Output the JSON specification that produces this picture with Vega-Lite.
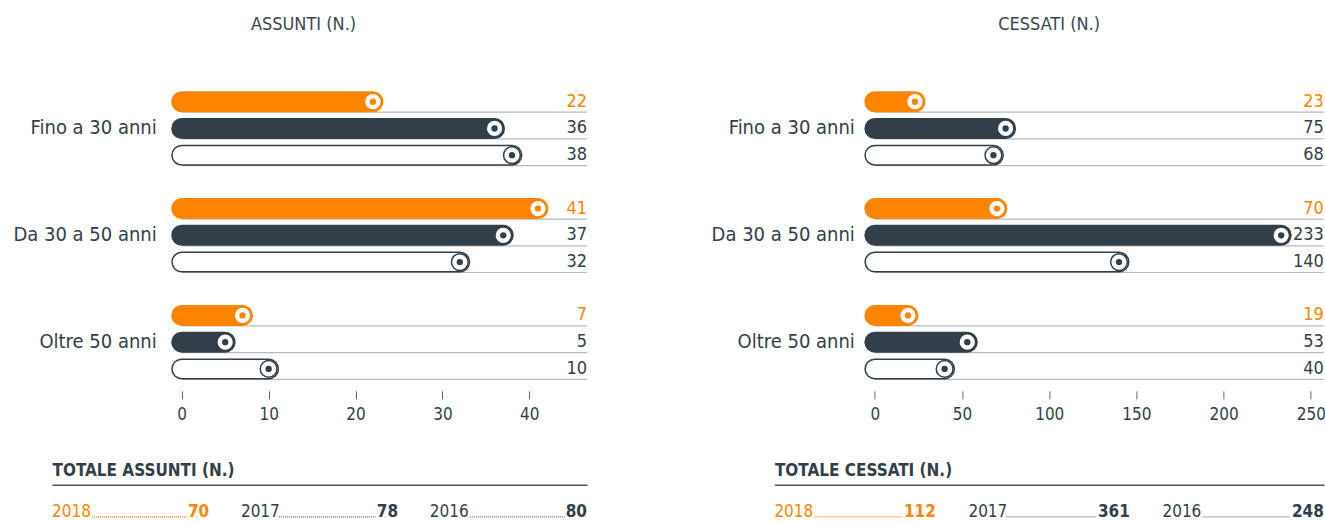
{
  "$schema": "https://vega.github.io/schema/vega-lite/v6.json",
  "padding": {"left": 13, "top": 15.8, "right": 2, "bottom": 0},
  "spacing": 123.4,
  "config": {
    "view": {"stroke": null},
    "font": "DejaVu Sans Condensed",
    "title": {"fontSize": 18, "fontWeight": "normal", "color": "#3b4650", "font": "DejaVu Sans Condensed"},
    "axis": {"labelFont": "DejaVu Sans Condensed", "titleFont": "DejaVu Sans Condensed"}
  },
  "datasets": {
    "assunti": [
      {"group": "Fino a 30 anni", "year": "2018", "value": 22},
      {"group": "Fino a 30 anni", "year": "2017", "value": 36},
      {"group": "Fino a 30 anni", "year": "2016", "value": 38},
      {"group": "Da 30 a 50 anni", "year": "2018", "value": 41},
      {"group": "Da 30 a 50 anni", "year": "2017", "value": 37},
      {"group": "Da 30 a 50 anni", "year": "2016", "value": 32},
      {"group": "Oltre 50 anni", "year": "2018", "value": 7},
      {"group": "Oltre 50 anni", "year": "2017", "value": 5},
      {"group": "Oltre 50 anni", "year": "2016", "value": 10}
    ],
    "cessati": [
      {"group": "Fino a 30 anni", "year": "2018", "value": 23},
      {"group": "Fino a 30 anni", "year": "2017", "value": 75},
      {"group": "Fino a 30 anni", "year": "2016", "value": 68},
      {"group": "Da 30 a 50 anni", "year": "2018", "value": 70},
      {"group": "Da 30 a 50 anni", "year": "2017", "value": 233},
      {"group": "Da 30 a 50 anni", "year": "2016", "value": 140},
      {"group": "Oltre 50 anni", "year": "2018", "value": 19},
      {"group": "Oltre 50 anni", "year": "2017", "value": 53},
      {"group": "Oltre 50 anni", "year": "2016", "value": 40}
    ],
    "tot_assunti": [
      {"year": "2018", "total": 70},
      {"year": "2017", "total": 78},
      {"year": "2016", "total": 80}
    ],
    "tot_cessati": [
      {"year": "2018", "total": 112},
      {"year": "2017", "total": 361},
      {"year": "2016", "total": 248}
    ]
  },
  "hconcat": [
    {
      "bounds": "flush",
      "spacing": 94,
      "vconcat": [
        {
          "width": 535,
          "height": 311,
          "title": {"text": "ASSUNTI (N.)", "dx": -16, "offset": 45.6},
          "data": {"name": "assunti"},
          "encoding": {
            "y": {"field": "group", "type": "nominal", "sort": ["Fino a 30 anni", "Da 30 a 50 anni", "Oltre 50 anni"], "scale": {"paddingInner": 0.249, "paddingOuter": 0.08}, "axis": null}
          },
          "resolve": {"scale": {"yOffset": "independent"}},
          "layer": [
            {
              "mark": {"type": "rule", "color": "#b7bbbf", "strokeWidth": 1.2},
              "encoding": {
                "x": {"datum": 0, "type": "quantitative", "scale": {"domain": [-14.93, 46.64], "nice": false, "zero": false}},
                "x2": {"value": "width"},
                "yOffset": {"field": "year", "type": "nominal", "scale": {"type": "band", "domain": ["2018", "2017", "2016"], "paddingInner": 0.9, "paddingOuter": 0.45, "align": 0.9353}}
              }
            },
            {
              "mark": {"type": "rule", "strokeWidth": 21, "strokeCap": "round"},
              "encoding": {
                "x": {"field": "value", "type": "quantitative", "scale": {"domain": [-14.93, 46.64], "nice": false, "zero": false},
                  "axis": {"values": [0, 10, 20, 30, 40], "domain": false, "grid": false, "tickSize": 8, "tickColor": "#5d666e", "tickWidth": 1, "labelFontSize": 17, "labelColor": "#333f48", "labelPadding": 8, "title": null}},
                "x2": {"datum": 0},
                "yOffset": {"field": "year", "type": "nominal", "scale": {"type": "band", "domain": ["2018", "2017", "2016"], "paddingInner": 0, "paddingOuter": 0}},
                "color": {"field": "year", "type": "nominal", "scale": {"domain": ["2018", "2017", "2016"], "range": ["#ff8500", "#333f48", "#333f48"]}, "legend": null}
              }
            },
            {
              "transform": [{"filter": "datum.year == '2016'"}],
              "mark": {"type": "rule", "strokeWidth": 18, "strokeCap": "round", "color": "white"},
              "encoding": {
                "x": {"field": "value", "type": "quantitative", "scale": {"domain": [-14.93, 46.64], "nice": false, "zero": false}},
                "x2": {"datum": 0},
                "yOffset": {"field": "year", "type": "nominal", "scale": {"type": "band", "domain": ["2018", "2017", "2016"], "paddingInner": 0, "paddingOuter": 0}}
              }
            },
            {
              "mark": {"type": "point", "filled": true, "fill": "white", "size": 280, "strokeWidth": 1.5, "opacity": 1},
              "encoding": {
                "x": {"field": "value", "type": "quantitative", "scale": {"domain": [-14.93, 46.64], "nice": false, "zero": false}},
                "yOffset": {"field": "year", "type": "nominal", "scale": {"type": "band", "domain": ["2018", "2017", "2016"], "paddingInner": 0, "paddingOuter": 0}},
                "stroke": {"field": "year", "type": "nominal", "scale": {"domain": ["2018", "2017", "2016"], "range": ["#ff8500", "#333f48", "#333f48"]}, "legend": null}
              }
            },
            {
              "mark": {"type": "point", "filled": true, "size": 40, "opacity": 1},
              "encoding": {
                "x": {"field": "value", "type": "quantitative", "scale": {"domain": [-14.93, 46.64], "nice": false, "zero": false}},
                "yOffset": {"field": "year", "type": "nominal", "scale": {"type": "band", "domain": ["2018", "2017", "2016"], "paddingInner": 0, "paddingOuter": 0}},
                "color": {"field": "year", "type": "nominal", "scale": {"domain": ["2018", "2017", "2016"], "range": ["#ff8500", "#333f48", "#333f48"]}, "legend": null}
              }
            },
            {
              "mark": {"type": "text", "align": "right", "baseline": "middle", "fontSize": 18},
              "encoding": {
                "x": {"value": "width"},
                "text": {"field": "value", "type": "quantitative"},
                "yOffset": {"field": "year", "type": "nominal", "scale": {"type": "band", "domain": ["2018", "2017", "2016"], "paddingInner": 0, "paddingOuter": 0}},
                "color": {"field": "year", "type": "nominal", "scale": {"domain": ["2018", "2017", "2016"], "range": ["#ff8500", "#333f48", "#333f48"]}, "legend": null}
              }
            },
            {
              "transform": [{"filter": "datum.year == '2017'"}],
              "mark": {"type": "text", "align": "right", "baseline": "middle", "fontSize": 20, "dx": -25, "color": "#333f48"},
              "encoding": {
                "x": {"datum": 0, "type": "quantitative", "scale": {"domain": [-14.93, 46.64], "nice": false, "zero": false}},
                "text": {"field": "group", "type": "nominal"}
              }
            }
          ]
        },
        {
          "width": 535,
          "height": 32,
          "data": {"name": "tot_assunti"},
          "layer": [
            {
              "mark": {"type": "rule", "strokeWidth": 1.2, "strokeDash": [1, 1]},
              "encoding": {
                "x": {"field": "year", "type": "nominal", "bandPosition": 0, "sort": ["2018", "2017", "2016"], "scale": {"paddingInner": 0.168, "paddingOuter": 0},
                  "axis": {"orient": "top", "labels": false, "ticks": false, "grid": false, "domainColor": "#4b5660", "domainWidth": 1.5, "title": "TOTALE ASSUNTI (N.)", "titleAnchor": "start", "titleAlign": "left", "titleFontSize": 17, "titleFontWeight": "bold", "titleColor": "#333f48", "titlePadding": 5}},
                "x2": {"field": "year", "bandPosition": 1},
                "y": {"value": "height"},
                "color": {"field": "year", "type": "nominal", "scale": {"domain": ["2018", "2017", "2016"], "range": ["#ff8500", "#6e777f", "#6e777f"]}, "legend": null}
              }
            },
            {
              "mark": {"type": "text", "align": "left", "baseline": "alphabetic", "fontSize": 17, "fill": "white", "stroke": "white", "strokeWidth": 6},
              "encoding": {
                "x": {"field": "year", "type": "nominal", "bandPosition": 0, "sort": ["2018", "2017", "2016"]},
                "y": {"value": "height"},
                "text": {"field": "year"}
              }
            },
            {
              "mark": {"type": "text", "align": "right", "baseline": "alphabetic", "fontSize": 17, "fontWeight": "bold", "fill": "white", "stroke": "white", "strokeWidth": 6},
              "encoding": {
                "x": {"field": "year", "type": "nominal", "bandPosition": 1, "sort": ["2018", "2017", "2016"]},
                "y": {"value": "height"},
                "text": {"field": "total"}
              }
            },
            {
              "mark": {"type": "text", "align": "left", "baseline": "alphabetic", "fontSize": 17},
              "encoding": {
                "x": {"field": "year", "type": "nominal", "bandPosition": 0, "sort": ["2018", "2017", "2016"]},
                "y": {"value": "height"},
                "text": {"field": "year"},
                "color": {"field": "year", "type": "nominal", "scale": {"domain": ["2018", "2017", "2016"], "range": ["#ff8500", "#333f48", "#333f48"]}, "legend": null}
              }
            },
            {
              "mark": {"type": "text", "align": "right", "baseline": "alphabetic", "fontSize": 17, "fontWeight": "bold"},
              "encoding": {
                "x": {"field": "year", "type": "nominal", "bandPosition": 1, "sort": ["2018", "2017", "2016"]},
                "y": {"value": "height"},
                "text": {"field": "total"},
                "color": {"field": "year", "type": "nominal", "scale": {"domain": ["2018", "2017", "2016"], "range": ["#ff8500", "#333f48", "#333f48"]}, "legend": null}
              }
            }
          ],
          "resolve": {"scale": {"color": "independent"}}
        }
      ]
    },
    {
      "bounds": "flush",
      "spacing": 94,
      "vconcat": [
        {
          "width": 549.5,
          "height": 311,
          "title": {"text": "CESSATI (N.)", "offset": 45.6},
          "data": {"name": "cessati"},
          "encoding": {
            "y": {"field": "group", "type": "nominal", "sort": ["Fino a 30 anni", "Da 30 a 50 anni", "Oltre 50 anni"], "scale": {"paddingInner": 0.249, "paddingOuter": 0.08}, "axis": null}
          },
          "resolve": {"scale": {"yOffset": "independent"}},
          "layer": [
            {
              "mark": {"type": "rule", "color": "#b7bbbf", "strokeWidth": 1.2},
              "encoding": {
                "x": {"datum": 0, "type": "quantitative", "scale": {"domain": [-57.6, 257.5], "nice": false, "zero": false}},
                "x2": {"value": "width"},
                "yOffset": {"field": "year", "type": "nominal", "scale": {"type": "band", "domain": ["2018", "2017", "2016"], "paddingInner": 0.9, "paddingOuter": 0.45, "align": 0.9353}}
              }
            },
            {
              "mark": {"type": "rule", "strokeWidth": 21, "strokeCap": "round"},
              "encoding": {
                "x": {"field": "value", "type": "quantitative", "scale": {"domain": [-57.6, 257.5], "nice": false, "zero": false},
                  "axis": {"values": [0, 50, 100, 150, 200, 250], "domain": false, "grid": false, "tickSize": 8, "tickColor": "#5d666e", "tickWidth": 1, "labelFontSize": 17, "labelColor": "#333f48", "labelPadding": 8, "title": null}},
                "x2": {"datum": 0},
                "yOffset": {"field": "year", "type": "nominal", "scale": {"type": "band", "domain": ["2018", "2017", "2016"], "paddingInner": 0, "paddingOuter": 0}},
                "color": {"field": "year", "type": "nominal", "scale": {"domain": ["2018", "2017", "2016"], "range": ["#ff8500", "#333f48", "#333f48"]}, "legend": null}
              }
            },
            {
              "transform": [{"filter": "datum.year == '2016'"}],
              "mark": {"type": "rule", "strokeWidth": 18, "strokeCap": "round", "color": "white"},
              "encoding": {
                "x": {"field": "value", "type": "quantitative", "scale": {"domain": [-57.6, 257.5], "nice": false, "zero": false}},
                "x2": {"datum": 0},
                "yOffset": {"field": "year", "type": "nominal", "scale": {"type": "band", "domain": ["2018", "2017", "2016"], "paddingInner": 0, "paddingOuter": 0}}
              }
            },
            {
              "mark": {"type": "point", "filled": true, "fill": "white", "size": 280, "strokeWidth": 1.5, "opacity": 1},
              "encoding": {
                "x": {"field": "value", "type": "quantitative", "scale": {"domain": [-57.6, 257.5], "nice": false, "zero": false}},
                "yOffset": {"field": "year", "type": "nominal", "scale": {"type": "band", "domain": ["2018", "2017", "2016"], "paddingInner": 0, "paddingOuter": 0}},
                "stroke": {"field": "year", "type": "nominal", "scale": {"domain": ["2018", "2017", "2016"], "range": ["#ff8500", "#333f48", "#333f48"]}, "legend": null}
              }
            },
            {
              "mark": {"type": "point", "filled": true, "size": 40, "opacity": 1},
              "encoding": {
                "x": {"field": "value", "type": "quantitative", "scale": {"domain": [-57.6, 257.5], "nice": false, "zero": false}},
                "yOffset": {"field": "year", "type": "nominal", "scale": {"type": "band", "domain": ["2018", "2017", "2016"], "paddingInner": 0, "paddingOuter": 0}},
                "color": {"field": "year", "type": "nominal", "scale": {"domain": ["2018", "2017", "2016"], "range": ["#ff8500", "#333f48", "#333f48"]}, "legend": null}
              }
            },
            {
              "mark": {"type": "text", "align": "right", "baseline": "middle", "fontSize": 18},
              "encoding": {
                "x": {"value": "width"},
                "text": {"field": "value", "type": "quantitative"},
                "yOffset": {"field": "year", "type": "nominal", "scale": {"type": "band", "domain": ["2018", "2017", "2016"], "paddingInner": 0, "paddingOuter": 0}},
                "color": {"field": "year", "type": "nominal", "scale": {"domain": ["2018", "2017", "2016"], "range": ["#ff8500", "#333f48", "#333f48"]}, "legend": null}
              }
            },
            {
              "transform": [{"filter": "datum.year == '2017'"}],
              "mark": {"type": "text", "align": "right", "baseline": "middle", "fontSize": 20, "dx": -20, "color": "#333f48"},
              "encoding": {
                "x": {"datum": 0, "type": "quantitative", "scale": {"domain": [-57.6, 257.5], "nice": false, "zero": false}},
                "text": {"field": "group", "type": "nominal"}
              }
            }
          ]
        },
        {
          "width": 549.5,
          "height": 32,
          "data": {"name": "tot_cessati"},
          "layer": [
            {
              "mark": {"type": "rule", "strokeWidth": 1.2, "strokeDash": [1, 1]},
              "encoding": {
                "x": {"field": "year", "type": "nominal", "bandPosition": 0, "sort": ["2018", "2017", "2016"], "scale": {"paddingInner": 0.168, "paddingOuter": 0},
                  "axis": {"orient": "top", "labels": false, "ticks": false, "grid": false, "domainColor": "#4b5660", "domainWidth": 1.5, "title": "TOTALE CESSATI  (N.)", "titleAnchor": "start", "titleAlign": "left", "titleFontSize": 17, "titleFontWeight": "bold", "titleColor": "#333f48", "titlePadding": 5}},
                "x2": {"field": "year", "bandPosition": 1},
                "y": {"value": "height"},
                "color": {"field": "year", "type": "nominal", "scale": {"domain": ["2018", "2017", "2016"], "range": ["#ff8500", "#6e777f", "#6e777f"]}, "legend": null}
              }
            },
            {
              "mark": {"type": "text", "align": "left", "baseline": "alphabetic", "fontSize": 17, "fill": "white", "stroke": "white", "strokeWidth": 6},
              "encoding": {
                "x": {"field": "year", "type": "nominal", "bandPosition": 0, "sort": ["2018", "2017", "2016"]},
                "y": {"value": "height"},
                "text": {"field": "year"}
              }
            },
            {
              "mark": {"type": "text", "align": "right", "baseline": "alphabetic", "fontSize": 17, "fontWeight": "bold", "fill": "white", "stroke": "white", "strokeWidth": 6},
              "encoding": {
                "x": {"field": "year", "type": "nominal", "bandPosition": 1, "sort": ["2018", "2017", "2016"]},
                "y": {"value": "height"},
                "text": {"field": "total"}
              }
            },
            {
              "mark": {"type": "text", "align": "left", "baseline": "alphabetic", "fontSize": 17},
              "encoding": {
                "x": {"field": "year", "type": "nominal", "bandPosition": 0, "sort": ["2018", "2017", "2016"]},
                "y": {"value": "height"},
                "text": {"field": "year"},
                "color": {"field": "year", "type": "nominal", "scale": {"domain": ["2018", "2017", "2016"], "range": ["#ff8500", "#333f48", "#333f48"]}, "legend": null}
              }
            },
            {
              "mark": {"type": "text", "align": "right", "baseline": "alphabetic", "fontSize": 17, "fontWeight": "bold"},
              "encoding": {
                "x": {"field": "year", "type": "nominal", "bandPosition": 1, "sort": ["2018", "2017", "2016"]},
                "y": {"value": "height"},
                "text": {"field": "total"},
                "color": {"field": "year", "type": "nominal", "scale": {"domain": ["2018", "2017", "2016"], "range": ["#ff8500", "#333f48", "#333f48"]}, "legend": null}
              }
            }
          ],
          "resolve": {"scale": {"color": "independent"}}
        }
      ]
    }
  ]
}
